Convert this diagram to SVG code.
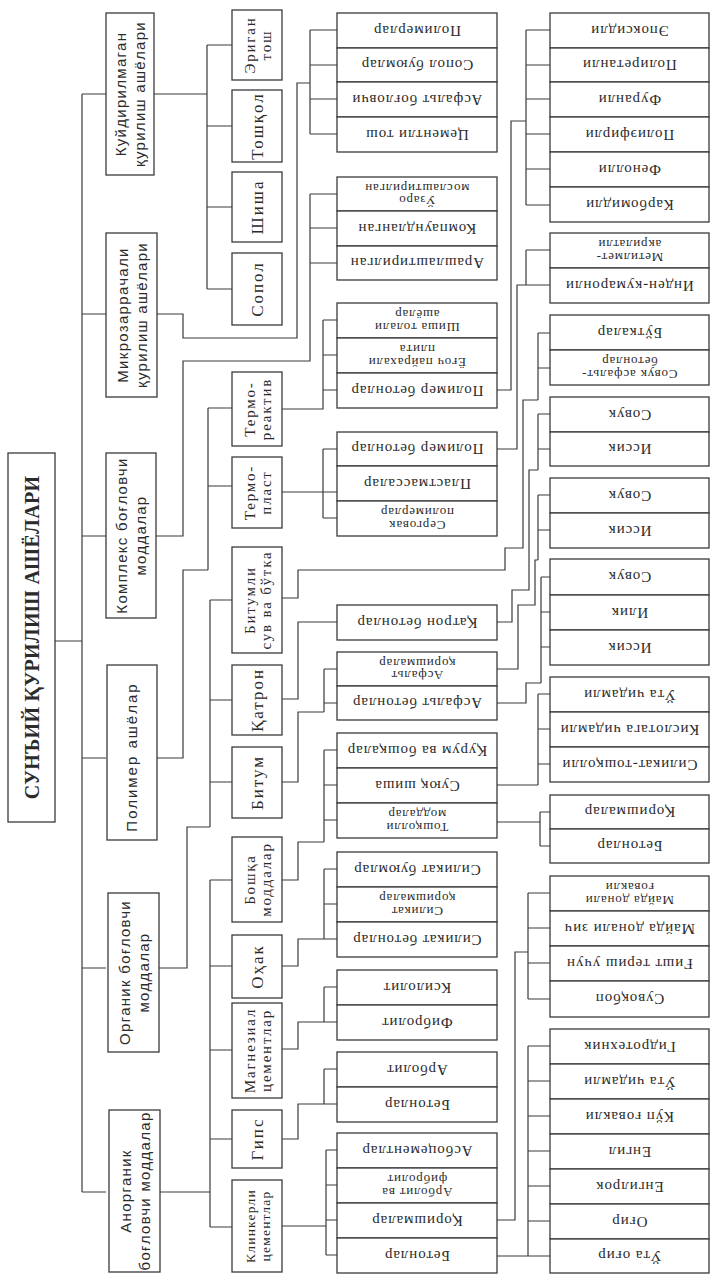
<svg xmlns="http://www.w3.org/2000/svg" width="710" height="1274" viewBox="0 0 710 1274">
<style>
.b{fill:#fff;stroke:#3a3a3a;stroke-width:1.3}
.c{fill:none;stroke:#3a3a3a;stroke-width:1.2}
text{fill:#2b2b2b;text-anchor:middle}
.tt{font-family:"Liberation Serif","Times New Roman",serif;font-size:20px;font-weight:bold;letter-spacing:0.3px}
.t1{font-family:"Liberation Sans",Arial,sans-serif;font-size:15px;letter-spacing:1.3px}
.t2{font-family:"Liberation Serif","Times New Roman",serif;font-size:15px;letter-spacing:1.8px}
.t2b{font-family:"Liberation Serif","Times New Roman",serif;font-size:17px;letter-spacing:2px}
.t3{font-family:"Liberation Serif","Times New Roman",serif;font-size:15px;letter-spacing:0.9px}
.t3s{font-family:"Liberation Serif","Times New Roman",serif;font-size:13px;letter-spacing:0.8px}
</style>
<rect x="0" y="0" width="710" height="1274" fill="#fff"/>
<g id="connectors" class="c">
<path d="M55,641 H82 M82,94 V1192 M82,94 H106 M82,314 H106 M82,536 H106 M82,758 H106 M82,968 H106 M82,1192 H106"/>
<path d="M154,94 H207 M207,45 V289 M207,45 H232 M207,126 H232 M207,207 H232 M207,289 H232"/>
<path d="M157,314 H183 V338 H297 V83 H310 M310,30 V134 M310,30 H337 M310,65 H337 M310,99 H337 M310,134 H337"/>
<path d="M156,536 H183 V361 H310 V194 M310,194 H337 M310,228 H337 M310,263 H337"/>
<path d="M157,758 H183 V570 H208 M208,408 V570 M208,408 H232 M208,486 H232"/>
<path d="M159,968 H187 V827 H210 M210,600 V827 M210,600 H232 M210,700 H232 M210,782 H232"/>
<path d="M160,1192 H210 M210,880 V1227 M210,880 H232 M210,966 H232 M210,1050 H232 M210,1139 H232 M210,1227 H232"/>
<path d="M282,409 H323 V320 M323,320 H337 M323,355 H337 M323,390 H337"/>
<path d="M282,492 H337 M323,449 V518 M323,449 H337 M323,518 H337"/>
<path d="M282,598 H298 V570 H505 V548 H523 V400 H538 M538,333 V400 M538,333 H550 M538,368 H550"/>
<path d="M282,699 H298 V622 H337"/>
<path d="M282,782 H298 V712 H324 M324,669 V712 M324,669 H337 M324,703 H337"/>
<path d="M282,880 H298 V842 H324 M324,750 V842 M324,750 H337 M324,785 H337 M324,820 H337"/>
<path d="M282,966 H298 V939 H324 M324,869 V939 M324,869 H337 M324,904 H337 M324,939 H337"/>
<path d="M282,1049 H298 V1022 H324 M324,987 V1022 M324,987 H337 M324,1022 H337"/>
<path d="M282,1139 H298 V1104 H324 M324,1069 V1104 M324,1069 H337 M324,1104 H337"/>
<path d="M282,1226 H326 M326,1150 V1255 M326,1150 H337 M326,1185 H337 M326,1220 H337 M326,1255 H337"/>
<path d="M497,390 H511 V121 H526 M526,30 V205 M526,30 H550 M526,65 H550 M526,99 H550 M526,134 H550 M526,169 H550 M526,205 H550"/>
<path d="M497,449 H517 V285 H526 V250 M526,250 H550 M526,285 H550"/>
<path d="M497,622 H512 V590 H529 V470 H538 M538,414 V470 M538,414 H550 M538,449 H550"/>
<path d="M497,669 H518 V605 H535 V560 H538 M538,495 V560 M538,495 H550 M538,530 H550"/>
<path d="M497,703 H526 V683 H541 M541,577 V683 M541,577 H550 M541,612 H550 M541,647 H550"/>
<path d="M497,785 H538 M538,694 V785 M538,694 H550 M538,729 H550 M538,764 H550"/>
<path d="M497,822 H540 M540,812 V846 M540,812 H550 M540,846 H550"/>
<path d="M497,1220 H515 V952 H528 M528,893 V999 M528,893 H550 M528,928 H550 M528,963 H550 M528,999 H550"/>
<path d="M497,1256 H550 M528,1046 V1256 M528,1046 H550 M528,1081 H550 M528,1116 H550 M528,1151 H550 M528,1186 H550 M528,1221 H550"/>
</g>
<g id="title"><rect class="b" x="8" y="453" width="47" height="369"/><text class="tt" transform="translate(31.5,637.5) rotate(-90)" y="7">СУНЪИЙ ҚУРИЛИШ АШЁЛАРИ</text></g>
<g id="l1-kuydir"><rect class="b" x="106" y="13" width="48" height="162"/><text class="t1" transform="translate(130,94) rotate(-90)"><tspan x="0" y="-4">Куйдирилмаган</tspan><tspan x="0" y="15">қурилиш ашёлари</tspan></text></g>
<g id="l1-mikro"><rect class="b" x="106" y="233" width="51" height="164"/><text class="t1" transform="translate(131.5,315) rotate(-90)"><tspan x="0" y="-4">Микрозаррачали</tspan><tspan x="0" y="15">қурилиш ашёлари</tspan></text></g>
<g id="l1-kompleks"><rect class="b" x="106" y="453" width="50" height="165"/><text class="t1" transform="translate(131,535.5) rotate(-90)"><tspan x="0" y="-4">Комплекс боғловчи</tspan><tspan x="0" y="15">моддалар</tspan></text></g>
<g id="l1-polimer"><rect class="b" x="107" y="665" width="50" height="175"/><text class="t1" transform="translate(132,757) rotate(-90)" y="5" style="letter-spacing:2px">Полимер ашёлар</text></g>
<g id="l1-organik"><rect class="b" x="108" y="893" width="51" height="159"/><text class="t1" transform="translate(133.5,972.5) rotate(-90)"><tspan x="0" y="-4">Органик боғловчи</tspan><tspan x="0" y="15">моддалар</tspan></text></g>
<g id="l1-anorganik"><rect class="b" x="109" y="1110" width="51" height="162"/><text class="t1" transform="translate(134.5,1191) rotate(-90)"><tspan x="0" y="-4">Анорганик</tspan><tspan x="0" y="15">боғловчи моддалар</tspan></text></g>
<g id="l2-erigan"><rect class="b" x="232" y="10" width="50" height="70"/><text class="t2" transform="translate(257,45) rotate(-90)"><tspan x="0" y="-2.5">Эриган</tspan><tspan x="0" y="13.5">тош</tspan></text></g>
<g id="l2-toshqol"><rect class="b" x="232" y="90" width="50" height="72"/><text class="t2b" transform="translate(257,126) rotate(-90)" y="6">Тошқол</text></g>
<g id="l2-shisha"><rect class="b" x="232" y="172" width="50" height="70"/><text class="t2b" transform="translate(257,207) rotate(-90)" y="6">Шиша</text></g>
<g id="l2-sopol"><rect class="b" x="232" y="253" width="50" height="72"/><text class="t2b" transform="translate(257,289) rotate(-90)" y="6">Сопол</text></g>
<g id="l2-termoreaktiv"><rect class="b" x="232" y="372" width="50" height="74"/><text class="t2" transform="translate(257,409) rotate(-90)"><tspan x="0" y="-2.5">Термо-</tspan><tspan x="0" y="13.5">реактив</tspan></text></g>
<g id="l2-termoplast"><rect class="b" x="232" y="457" width="50" height="71"/><text class="t2" transform="translate(257,492.5) rotate(-90)"><tspan x="0" y="-2.5">Термо-</tspan><tspan x="0" y="13.5">пласт</tspan></text></g>
<g id="l2-bitumli"><rect class="b" x="232" y="547" width="50" height="106"/><text class="t2" transform="translate(257,600) rotate(-90)"><tspan x="0" y="-2.5">Битумли</tspan><tspan x="0" y="13.5">сув ва бўтка</tspan></text></g>
<g id="l2-qatron"><rect class="b" x="232" y="665" width="50" height="70"/><text class="t2b" transform="translate(257,700) rotate(-90)" y="6">Қатрон</text></g>
<g id="l2-bitum"><rect class="b" x="232" y="747" width="50" height="71"/><text class="t2b" transform="translate(257,782.5) rotate(-90)" y="6">Битум</text></g>
<g id="l2-boshqa"><rect class="b" x="232" y="837" width="50" height="85"/><text class="t2" transform="translate(257,879.5) rotate(-90)"><tspan x="0" y="-2.5">Бошқа</tspan><tspan x="0" y="13.5">моддалар</tspan></text></g>
<g id="l2-ohak"><rect class="b" x="232" y="935" width="50" height="63"/><text class="t2b" transform="translate(257,966.5) rotate(-90)" y="6">Оҳак</text></g>
<g id="l2-magnezial"><rect class="b" x="232" y="1003" width="50" height="95"/><text class="t2" transform="translate(257,1050.5) rotate(-90)"><tspan x="0" y="-2.5">Магнезиал</tspan><tspan x="0" y="13.5">цементлар</tspan></text></g>
<g id="l2-gips"><rect class="b" x="232" y="1110" width="50" height="58"/><text class="t2b" transform="translate(257,1139) rotate(-90)" y="6">Гипс</text></g>
<g id="l2-klinker"><rect class="b" x="232" y="1180" width="50" height="92"/><text class="t2" transform="translate(257,1226) rotate(-90)" style="font-size:13.5px;letter-spacing:1.2px"><tspan x="0" y="-2.5">Клинкерли</tspan><tspan x="0" y="13">цементлар</tspan></text></g>
<g id="l3-01"><rect class="b" x="337" y="13" width="160" height="35"/><text class="t3" transform="rotate(180 417 30.5)" x="417" y="35.5">Полимерлар</text></g>
<g id="l3-02"><rect class="b" x="337" y="48" width="160" height="34"/><text class="t3" transform="rotate(180 417 65)" x="417" y="70">Сопол буюмлар</text></g>
<g id="l3-03"><rect class="b" x="337" y="82" width="160" height="35"/><text class="t3" transform="rotate(180 417 99.5)" x="417" y="104.5">Асфальт боғловчи</text></g>
<g id="l3-04"><rect class="b" x="337" y="117" width="160" height="35"/><text class="t3" transform="rotate(180 417 134.5)" x="417" y="139.5">Цементли тош</text></g>
<g id="l3-05"><rect class="b" x="337" y="177" width="160" height="34"/><text class="t3s" transform="rotate(180 417 194)"><tspan x="417" y="192">Ўзаро</tspan><tspan x="417" y="204.5">мослаштирилган</tspan></text></g>
<g id="l3-06"><rect class="b" x="337" y="211" width="160" height="35"/><text class="t3" transform="rotate(180 417 228.5)" x="417" y="233.5">Компаундланган</text></g>
<g id="l3-07"><rect class="b" x="337" y="246" width="160" height="34"/><text class="t3" transform="rotate(180 417 263)" x="417" y="268">Арашлаштирилган</text></g>
<g id="l3-08"><rect class="b" x="337" y="303" width="160" height="35"/><text class="t3s" transform="rotate(180 417 320.5)"><tspan x="417" y="318.5">Шиша толали</tspan><tspan x="417" y="331">ашёлар</tspan></text></g>
<g id="l3-09"><rect class="b" x="337" y="338" width="160" height="35"/><text class="t3s" transform="rotate(180 417 355.5)"><tspan x="417" y="353.5">Ёғоч пайрахали</tspan><tspan x="417" y="366">плита</tspan></text></g>
<g id="l3-10"><rect class="b" x="337" y="373" width="160" height="35"/><text class="t3" transform="rotate(180 417 390.5)" x="417" y="395.5">Полимер бетонлар</text></g>
<g id="l3-11"><rect class="b" x="337" y="432" width="160" height="34"/><text class="t3" transform="rotate(180 417 449)" x="417" y="454">Полимер бетонлар</text></g>
<g id="l3-12"><rect class="b" x="337" y="466" width="160" height="35"/><text class="t3" transform="rotate(180 417 483.5)" x="417" y="488.5">Пластмассалар</text></g>
<g id="l3-13"><rect class="b" x="337" y="501" width="160" height="35"/><text class="t3s" transform="rotate(180 417 518.5)"><tspan x="417" y="516.5">Серговак</tspan><tspan x="417" y="529">полимерлар</tspan></text></g>
<g id="l3-14"><rect class="b" x="337" y="605" width="160" height="35"/><text class="t3" transform="rotate(180 417 622.5)" x="417" y="627.5">Қатрон бетонлар</text></g>
<g id="l3-15"><rect class="b" x="337" y="652" width="160" height="34"/><text class="t3s" transform="rotate(180 417 669)"><tspan x="417" y="667">Асфальт</tspan><tspan x="417" y="679.5">қоришмалар</tspan></text></g>
<g id="l3-16"><rect class="b" x="337" y="686" width="160" height="34"/><text class="t3" transform="rotate(180 417 703)" x="417" y="708">Асфальт бетонлар</text></g>
<g id="l3-17"><rect class="b" x="337" y="733" width="160" height="35"/><text class="t3" transform="rotate(180 417 750.5)" x="417" y="755.5">Қурум ва бошқалар</text></g>
<g id="l3-18"><rect class="b" x="337" y="768" width="160" height="35"/><text class="t3" transform="rotate(180 417 785.5)" x="417" y="790.5">Суюқ шиша</text></g>
<g id="l3-19"><rect class="b" x="337" y="803" width="160" height="35"/><text class="t3s" transform="rotate(180 417 820.5)"><tspan x="417" y="818.5">Тошқолли</tspan><tspan x="417" y="831">моддалар</tspan></text></g>
<g id="l3-20"><rect class="b" x="337" y="852" width="160" height="35"/><text class="t3" transform="rotate(180 417 869.5)" x="417" y="874.5">Силикат буюмлар</text></g>
<g id="l3-21"><rect class="b" x="337" y="887" width="160" height="35"/><text class="t3s" transform="rotate(180 417 904.5)"><tspan x="417" y="902.5">Силикат</tspan><tspan x="417" y="915">қоришмалар</tspan></text></g>
<g id="l3-22"><rect class="b" x="337" y="922" width="160" height="35"/><text class="t3" transform="rotate(180 417 939.5)" x="417" y="944.5">Силикат бетонлар</text></g>
<g id="l3-23"><rect class="b" x="337" y="970" width="160" height="35"/><text class="t3" transform="rotate(180 417 987.5)" x="417" y="992.5">Ксилолит</text></g>
<g id="l3-24"><rect class="b" x="337" y="1005" width="160" height="35"/><text class="t3" transform="rotate(180 417 1022.5)" x="417" y="1027.5">Фибролит</text></g>
<g id="l3-25"><rect class="b" x="337" y="1052" width="160" height="35"/><text class="t3" transform="rotate(180 417 1069.5)" x="417" y="1074.5">Арболит</text></g>
<g id="l3-26"><rect class="b" x="337" y="1087" width="160" height="35"/><text class="t3" transform="rotate(180 417 1104.5)" x="417" y="1109.5">Бетонлар</text></g>
<g id="l3-27"><rect class="b" x="337" y="1133" width="160" height="35"/><text class="t3" transform="rotate(180 417 1150.5)" x="417" y="1155.5">Асбоцементлар</text></g>
<g id="l3-28"><rect class="b" x="337" y="1168" width="160" height="35"/><text class="t3s" transform="rotate(180 417 1185.5)"><tspan x="417" y="1183.5">Арболит ва</tspan><tspan x="417" y="1196">фибролит</tspan></text></g>
<g id="l3-29"><rect class="b" x="337" y="1203" width="160" height="35"/><text class="t3" transform="rotate(180 417 1220.5)" x="417" y="1225.5">Қоришмалар</text></g>
<g id="l3-30"><rect class="b" x="337" y="1238" width="160" height="35"/><text class="t3" transform="rotate(180 417 1255.5)" x="417" y="1260.5">Бетонлар</text></g>
<g id="l4-01"><rect class="b" x="550" y="13" width="159" height="35"/><text class="t3" transform="rotate(180 629.5 30.5)" x="629.5" y="35.5">Эпоксидли</text></g>
<g id="l4-02"><rect class="b" x="550" y="48" width="159" height="34"/><text class="t3" transform="rotate(180 629.5 65)" x="629.5" y="70">Полиретанли</text></g>
<g id="l4-03"><rect class="b" x="550" y="82" width="159" height="35"/><text class="t3" transform="rotate(180 629.5 99.5)" x="629.5" y="104.5">Фуранли</text></g>
<g id="l4-04"><rect class="b" x="550" y="117" width="159" height="35"/><text class="t3" transform="rotate(180 629.5 134.5)" x="629.5" y="139.5">Полиэфирли</text></g>
<g id="l4-05"><rect class="b" x="550" y="152" width="159" height="35"/><text class="t3" transform="rotate(180 629.5 169.5)" x="629.5" y="174.5">Фенолли</text></g>
<g id="l4-06"><rect class="b" x="550" y="187" width="159" height="35"/><text class="t3" transform="rotate(180 629.5 204.5)" x="629.5" y="209.5">Карбомидли</text></g>
<g id="l4-07"><rect class="b" x="550" y="233" width="159" height="35"/><text class="t3s" transform="rotate(180 629.5 250.5)"><tspan x="629.5" y="248.5">Метилмет-</tspan><tspan x="629.5" y="261">акрилатли</tspan></text></g>
<g id="l4-08"><rect class="b" x="550" y="268" width="159" height="35"/><text class="t3" transform="rotate(180 629.5 285.5)" x="629.5" y="290.5">Инден-кумаронли</text></g>
<g id="l4-09"><rect class="b" x="550" y="315" width="159" height="35"/><text class="t3" transform="rotate(180 629.5 332.5)" x="629.5" y="337.5">Бўткалар</text></g>
<g id="l4-10"><rect class="b" x="550" y="350" width="159" height="35"/><text class="t3s" transform="rotate(180 629.5 367.5)"><tspan x="629.5" y="365.5">Совук асфальт-</tspan><tspan x="629.5" y="378">бетонлар</tspan></text></g>
<g id="l4-11"><rect class="b" x="550" y="397" width="159" height="35"/><text class="t3" transform="rotate(180 629.5 414.5)" x="629.5" y="419.5">Совук</text></g>
<g id="l4-12"><rect class="b" x="550" y="432" width="159" height="34"/><text class="t3" transform="rotate(180 629.5 449)" x="629.5" y="454">Иссик</text></g>
<g id="l4-13"><rect class="b" x="550" y="478" width="159" height="35"/><text class="t3" transform="rotate(180 629.5 495.5)" x="629.5" y="500.5">Совук</text></g>
<g id="l4-14"><rect class="b" x="550" y="513" width="159" height="35"/><text class="t3" transform="rotate(180 629.5 530.5)" x="629.5" y="535.5">Иссик</text></g>
<g id="l4-15"><rect class="b" x="550" y="559" width="159" height="36"/><text class="t3" transform="rotate(180 629.5 577)" x="629.5" y="582">Совук</text></g>
<g id="l4-16"><rect class="b" x="550" y="595" width="159" height="35"/><text class="t3" transform="rotate(180 629.5 612.5)" x="629.5" y="617.5">Илик</text></g>
<g id="l4-17"><rect class="b" x="550" y="630" width="159" height="35"/><text class="t3" transform="rotate(180 629.5 647.5)" x="629.5" y="652.5">Иссик</text></g>
<g id="l4-18"><rect class="b" x="550" y="677" width="159" height="35"/><text class="t3" transform="rotate(180 629.5 694.5)" x="629.5" y="699.5">Ўта чидамли</text></g>
<g id="l4-19"><rect class="b" x="550" y="712" width="159" height="35"/><text class="t3" transform="rotate(180 629.5 729.5)" x="629.5" y="734.5">Кислотага чидамли</text></g>
<g id="l4-20"><rect class="b" x="550" y="747" width="159" height="35"/><text class="t3" transform="rotate(180 629.5 764.5)" x="629.5" y="769.5">Силикат-тошқолли</text></g>
<g id="l4-21"><rect class="b" x="550" y="795" width="159" height="34"/><text class="t3" transform="rotate(180 629.5 812)" x="629.5" y="817">Қоришмалар</text></g>
<g id="l4-22"><rect class="b" x="550" y="829" width="159" height="34"/><text class="t3" transform="rotate(180 629.5 846)" x="629.5" y="851">Бетонлар</text></g>
<g id="l4-23"><rect class="b" x="550" y="876" width="159" height="35"/><text class="t3s" transform="rotate(180 629.5 893.5)"><tspan x="629.5" y="891.5">Майда донали</tspan><tspan x="629.5" y="904">ғовакли</tspan></text></g>
<g id="l4-24"><rect class="b" x="550" y="911" width="159" height="35"/><text class="t3" transform="rotate(180 629.5 928.5)" x="629.5" y="933.5">Майда донали зич</text></g>
<g id="l4-25"><rect class="b" x="550" y="946" width="159" height="35"/><text class="t3" transform="rotate(180 629.5 963.5)" x="629.5" y="968.5">Ғишт териш учун</text></g>
<g id="l4-26"><rect class="b" x="550" y="981" width="159" height="36"/><text class="t3" transform="rotate(180 629.5 999)" x="629.5" y="1004">Сувоқбоп</text></g>
<g id="l4-27"><rect class="b" x="550" y="1029" width="159" height="35"/><text class="t3" transform="rotate(180 629.5 1046.5)" x="629.5" y="1051.5">Гидротехник</text></g>
<g id="l4-28"><rect class="b" x="550" y="1064" width="159" height="35"/><text class="t3" transform="rotate(180 629.5 1081.5)" x="629.5" y="1086.5">Ўта чидамли</text></g>
<g id="l4-29"><rect class="b" x="550" y="1099" width="159" height="35"/><text class="t3" transform="rotate(180 629.5 1116.5)" x="629.5" y="1121.5">Кўп ғовакли</text></g>
<g id="l4-30"><rect class="b" x="550" y="1134" width="159" height="35"/><text class="t3" transform="rotate(180 629.5 1151.5)" x="629.5" y="1156.5">Енгил</text></g>
<g id="l4-31"><rect class="b" x="550" y="1169" width="159" height="35"/><text class="t3" transform="rotate(180 629.5 1186.5)" x="629.5" y="1191.5">Енгилрок</text></g>
<g id="l4-32"><rect class="b" x="550" y="1204" width="159" height="35"/><text class="t3" transform="rotate(180 629.5 1221.5)" x="629.5" y="1226.5">Оғир</text></g>
<g id="l4-33"><rect class="b" x="550" y="1239" width="159" height="34"/><text class="t3" transform="rotate(180 629.5 1256)" x="629.5" y="1261">Ўта оғир</text></g>
</svg>
